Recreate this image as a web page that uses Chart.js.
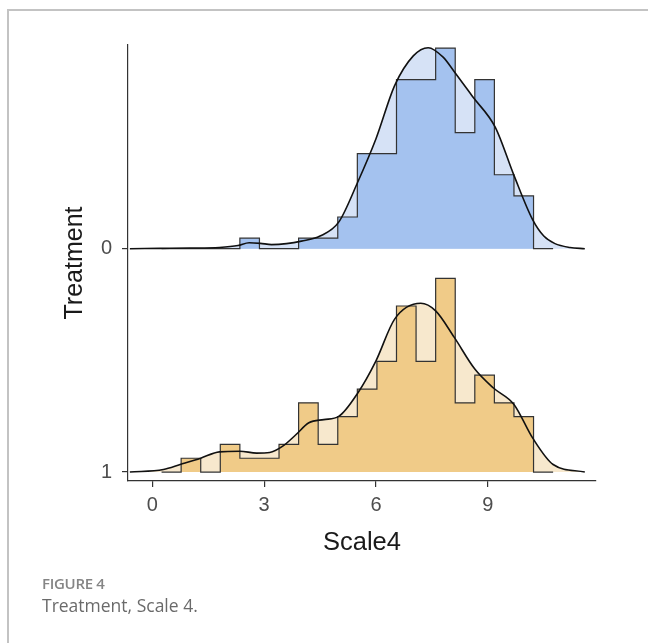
<!DOCTYPE html>
<html>
<head>
<meta charset="utf-8">
<script src="https://cdn.jsdelivr.net/npm/chart.js@4.4.1/dist/chart.umd.min.js"></script>
<style>
  html, body { margin: 0; padding: 0; background: #fff; }
  body { width: 648px; height: 643px; position: relative; overflow: hidden; }
  #frame { position: absolute; left: 7px; top: 9px; right: 0; bottom: 0;
           border-top: 2px solid #c3c3c3; border-left: 2px solid #c3c3c3; }
  #wrap { position: absolute; left: 0; top: 0; width: 648px; height: 643px; }
  #figLabel { position: absolute; left: 42px; top: 576px; line-height: 1; font-family: "Open Sans", sans-serif;
              font-weight: 600; font-size: 15px; color: #858585; letter-spacing: -0.3px; }
  #figText { position: absolute; left: 42px; top: 597px; line-height: 1; font-family: "Open Sans", sans-serif;
             font-size: 17.5px; color: #6a6a6a; }
</style>
</head>
<body>
<div id="frame"></div>
<div id="wrap"><canvas id="myGraph" width="648" height="643"></canvas></div>
<div id="figLabel">FIGURE 4</div>
<div id="figText">Treatment, Scale 4.</div>
<script>
// treatment groups, bottom ridge first
const treatments = ["1", "0"];
const baselines = [0, 1];

// histogram bins (20 bins)
const binStart = 0.25;
const binWidth = 0.525;
const countsT0 = [0, 0, 0, 0, 1, 0, 0, 1, 1, 3, 9, 9, 16, 16, 19, 11, 16, 7, 5, 0];
const countsT1 = [0, 1, 0, 2, 1, 1, 2, 5, 2, 4, 6, 8, 12, 8, 14, 5, 7, 5, 4, 0];

// density curves
const curveXT0 = [-0.6, 0.2, 1.0, 1.8, 2.3, 2.6, 2.9, 3.2, 3.6, 4.0, 4.5, 5.0, 5.5, 6.0, 6.5, 7.0, 7.4, 7.8, 8.1, 8.6, 9.2, 9.7, 10.2, 10.5, 10.8, 11.2, 11.6];
const curveYT0 = [0, 0.0005, 0.001, 0.002, 0.005, 0.0095, 0.0085, 0.0065, 0.008, 0.012, 0.02, 0.042, 0.104, 0.174, 0.258, 0.305, 0.318, 0.303, 0.28, 0.24, 0.192, 0.116, 0.046, 0.02, 0.008, 0.002, 0];
const curveXT1 = [-0.6, 0.3, 0.75, 1.3, 1.8, 2.35, 2.8, 3.15, 3.5, 3.85, 4.2, 4.6, 5.0, 5.5, 6.0, 6.5, 7.2, 7.6, 8.1, 8.65, 9.15, 9.7, 10.2, 10.75, 11.6];
const curveYT1 = [0, 0.004, 0.012, 0.022, 0.032, 0.033, 0.03, 0.031, 0.041, 0.059, 0.078, 0.083, 0.088, 0.124, 0.176, 0.242, 0.267, 0.255, 0.213, 0.163, 0.133, 0.107, 0.054, 0.012, 0];

const xTicks = [0, 3, 6, 9];
const heightScale = 2.83;

const histFill = ["#f0cb88", "#a4c2ef"];
const densFill = ["#f7e8cd", "#d6e2f6"];

function histPoints(counts, base) {
    let total = counts.reduce((a, b) => a + b, 0);
    let pts = [{ x: binStart, y: base }];
    for (let i = 0; i < counts.length; i++) {
        pts.push({ x: binStart + i * binWidth, y: base + counts[i] / (total * binWidth) * heightScale });
    }
    pts.push({ x: binStart + counts.length * binWidth, y: base });
    return pts;
}

function curvePoints(xs, ys, base) {
    return xs.map((x, i) => ({ x: x, y: base + ys[i] * heightScale }));
}

const groups = [
    { counts: countsT1, cx: curveXT1, cy: curveYT1 },
    { counts: countsT0, cx: curveXT0, cy: curveYT0 }
];

let datasets = [];
groups.forEach((g, k) => {
    let base = baselines[k];
    datasets.push({
        data: curvePoints(g.cx, g.cy, base),
        fill: { value: base },
        backgroundColor: densFill[k],
        borderWidth: 0,
        pointRadius: 0,
        cubicInterpolationMode: "monotone",
        order: 3
    });
    datasets.push({
        data: histPoints(g.counts, base),
        stepped: "before",
        fill: { value: base },
        backgroundColor: histFill[k],
        borderColor: "#333333",
        borderWidth: 1.2,
        pointRadius: 0,
        order: 2
    });
    datasets.push({
        data: curvePoints(g.cx, g.cy, base),
        fill: false,
        borderColor: "#111111",
        borderWidth: 1.6,
        pointRadius: 0,
        cubicInterpolationMode: "monotone",
        order: 1
    });
});

const ctx = document.getElementById("myGraph");

let myChart = new Chart(ctx, {
    type: "line",
    data: { datasets: datasets },
    options: {
        responsive: false,
        animation: false,
        layout: { padding: { left: 56, top: 45, right: 52, bottom: 81 } },
        plugins: { legend: { display: false }, tooltip: { enabled: false } },
        scales: {
            x: {
                type: "linear",
                min: -0.65,
                max: 11.9,
                afterBuildTicks: (axis) => { axis.ticks = xTicks.map(v => ({ value: v })); },
                afterFit: (axis) => { axis.height = 81; },
                grid: { drawOnChartArea: false, drawTicks: true, tickLength: 6, color: "#333", lineWidth: 1.2 },
                border: { display: true, color: "#333", width: 1.2 },
                ticks: { color: "#4d4d4d", font: { family: "Liberation Sans", size: 20 }, padding: 6, maxRotation: 0 },
                title: { display: true, text: "Scale4", color: "#1a1a1a", font: { family: "Liberation Sans", size: 25.5 } }
            },
            y: {
                type: "linear",
                min: -0.04,
                max: 1.912,
                afterBuildTicks: (axis) => { axis.ticks = baselines.map(v => ({ value: v })); },
                afterFit: (axis) => { axis.width = 72; },
                grid: { drawOnChartArea: false, drawTicks: true, tickLength: 6, color: "#333", lineWidth: 1.2 },
                border: { display: true, color: "#333", width: 1.2 },
                ticks: {
                    color: "#4d4d4d", font: { family: "Liberation Sans", size: 20 }, padding: 10,
                    callback: (v) => treatments[baselines.indexOf(v)]
                },
                title: { display: true, text: "Treatment", color: "#1a1a1a", font: { family: "Liberation Sans", size: 25 } }
            }
        }
    }
});
</script>
</body>
</html>
